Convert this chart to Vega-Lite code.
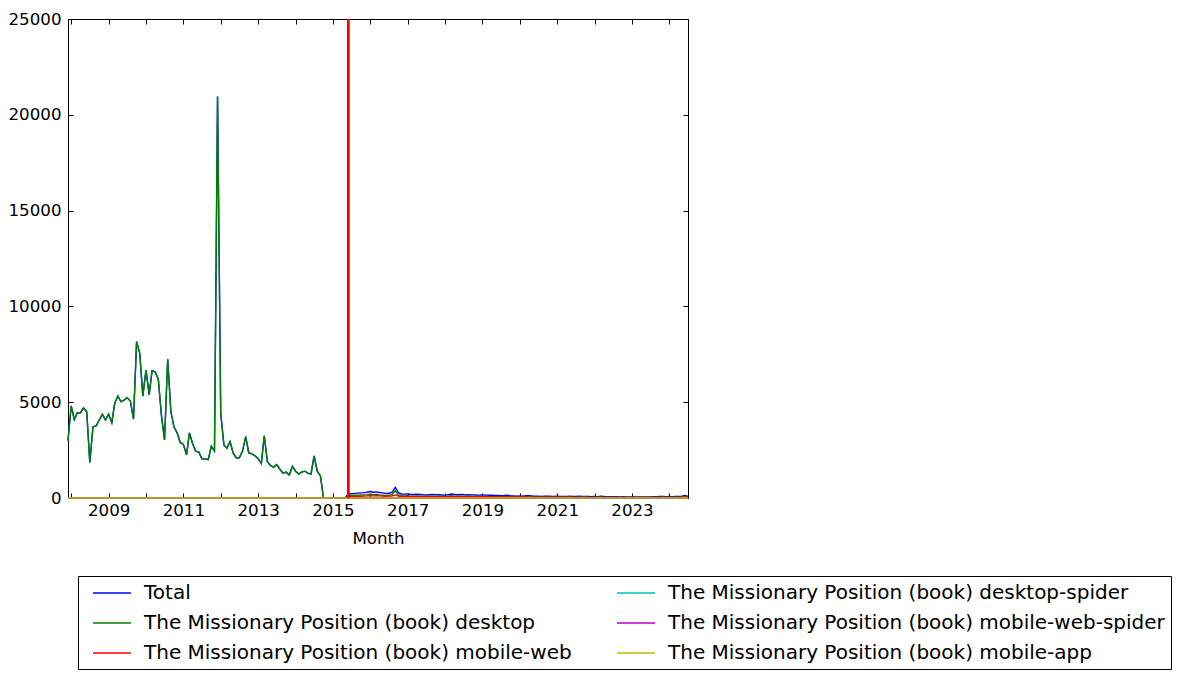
{
"$schema":"https://vega.github.io/schema/vega-lite/v6.json",
"width":620,"height":479,
"autosize":{"type":"none"},
"padding":{"left":68,"top":19,"right":496,"bottom":181},
"background":"white",
"config":{"font":"DejaVu Sans","view":{"stroke":"black","strokeWidth":1},
"axis":{"grid":false,"domainColor":"black","tickColor":"black","labelColor":"black","labelFontSize":16.67,"titleFontSize":16.67,"titleFontWeight":"normal","titleColor":"black","tickSize":-5,"tickWidth":1}},
"datasets":{
"names":[{"k":"T","series":"Total"},{"k":"D","series":"The Missionary Position (book) desktop"},{"k":"W","series":"The Missionary Position (book) mobile-web"},{"k":"S","series":"The Missionary Position (book) desktop-spider"},{"k":"P","series":"The Missionary Position (book) mobile-web-spider"},{"k":"A","series":"The Missionary Position (book) mobile-app"}],
"main":[
{"m":"2007-12","T":3000,"D":3000,"W":0,"S":0,"P":0,"A":0},
{"m":"2008-01","T":4800,"D":4800,"W":0,"S":0,"P":0,"A":0},
{"m":"2008-02","T":4100,"D":4100,"W":0,"S":0,"P":0,"A":0},
{"m":"2008-03","T":4450,"D":4450,"W":0,"S":0,"P":0,"A":0},
{"m":"2008-04","T":4450,"D":4450,"W":0,"S":0,"P":0,"A":0},
{"m":"2008-05","T":4700,"D":4700,"W":0,"S":0,"P":0,"A":0},
{"m":"2008-06","T":4500,"D":4500,"W":0,"S":0,"P":0,"A":0},
{"m":"2008-07","T":1850,"D":1850,"W":0,"S":0,"P":0,"A":0},
{"m":"2008-08","T":3720,"D":3720,"W":0,"S":0,"P":0,"A":0},
{"m":"2008-09","T":3760,"D":3760,"W":0,"S":0,"P":0,"A":0},
{"m":"2008-10","T":4070,"D":4070,"W":0,"S":0,"P":0,"A":0},
{"m":"2008-11","T":4370,"D":4370,"W":0,"S":0,"P":0,"A":0},
{"m":"2008-12","T":4070,"D":4070,"W":0,"S":0,"P":0,"A":0},
{"m":"2009-01","T":4370,"D":4370,"W":0,"S":0,"P":0,"A":0},
{"m":"2009-02","T":3930,"D":3930,"W":0,"S":0,"P":0,"A":0},
{"m":"2009-03","T":4940,"D":4940,"W":0,"S":0,"P":0,"A":0},
{"m":"2009-04","T":5320,"D":5320,"W":0,"S":0,"P":0,"A":0},
{"m":"2009-05","T":5030,"D":5030,"W":0,"S":0,"P":0,"A":0},
{"m":"2009-06","T":5110,"D":5110,"W":0,"S":0,"P":0,"A":0},
{"m":"2009-07","T":5240,"D":5240,"W":0,"S":0,"P":0,"A":0},
{"m":"2009-08","T":5060,"D":5060,"W":0,"S":0,"P":0,"A":0},
{"m":"2009-09","T":4120,"D":4120,"W":0,"S":0,"P":0,"A":0},
{"m":"2009-10","T":8160,"D":8160,"W":0,"S":0,"P":0,"A":0},
{"m":"2009-11","T":7550,"D":7550,"W":0,"S":0,"P":0,"A":0},
{"m":"2009-12","T":5320,"D":5320,"W":0,"S":0,"P":0,"A":0},
{"m":"2010-01","T":6680,"D":6680,"W":0,"S":0,"P":0,"A":0},
{"m":"2010-02","T":5380,"D":5380,"W":0,"S":0,"P":0,"A":0},
{"m":"2010-03","T":6640,"D":6640,"W":0,"S":0,"P":0,"A":0},
{"m":"2010-04","T":6590,"D":6590,"W":0,"S":0,"P":0,"A":0},
{"m":"2010-05","T":6200,"D":6200,"W":0,"S":0,"P":0,"A":0},
{"m":"2010-06","T":4300,"D":4300,"W":0,"S":0,"P":0,"A":0},
{"m":"2010-07","T":3030,"D":3030,"W":0,"S":0,"P":0,"A":0},
{"m":"2010-08","T":7240,"D":7240,"W":0,"S":0,"P":0,"A":0},
{"m":"2010-09","T":4500,"D":4500,"W":0,"S":0,"P":0,"A":0},
{"m":"2010-10","T":3720,"D":3720,"W":0,"S":0,"P":0,"A":0},
{"m":"2010-11","T":3400,"D":3400,"W":0,"S":0,"P":0,"A":0},
{"m":"2010-12","T":2900,"D":2900,"W":0,"S":0,"P":0,"A":0},
{"m":"2011-01","T":2800,"D":2800,"W":0,"S":0,"P":0,"A":0},
{"m":"2011-02","T":2250,"D":2250,"W":0,"S":0,"P":0,"A":0},
{"m":"2011-03","T":3400,"D":3400,"W":0,"S":0,"P":0,"A":0},
{"m":"2011-04","T":2850,"D":2850,"W":0,"S":0,"P":0,"A":0},
{"m":"2011-05","T":2450,"D":2450,"W":0,"S":0,"P":0,"A":0},
{"m":"2011-06","T":2400,"D":2400,"W":0,"S":0,"P":0,"A":0},
{"m":"2011-07","T":2050,"D":2050,"W":0,"S":0,"P":0,"A":0},
{"m":"2011-08","T":2050,"D":2050,"W":0,"S":0,"P":0,"A":0},
{"m":"2011-09","T":2000,"D":2000,"W":0,"S":0,"P":0,"A":0},
{"m":"2011-10","T":2700,"D":2700,"W":0,"S":0,"P":0,"A":0},
{"m":"2011-11","T":2450,"D":2450,"W":0,"S":0,"P":0,"A":0},
{"m":"2011-12","T":20950,"D":20950,"W":0,"S":0,"P":0,"A":0},
{"m":"2012-01","T":4420,"D":4420,"W":0,"S":0,"P":0,"A":0},
{"m":"2012-02","T":2770,"D":2770,"W":0,"S":0,"P":0,"A":0},
{"m":"2012-03","T":2600,"D":2600,"W":0,"S":0,"P":0,"A":0},
{"m":"2012-04","T":2950,"D":2950,"W":0,"S":0,"P":0,"A":0},
{"m":"2012-05","T":2350,"D":2350,"W":0,"S":0,"P":0,"A":0},
{"m":"2012-06","T":2100,"D":2100,"W":0,"S":0,"P":0,"A":0},
{"m":"2012-07","T":2100,"D":2100,"W":0,"S":0,"P":0,"A":0},
{"m":"2012-08","T":2450,"D":2450,"W":0,"S":0,"P":0,"A":0},
{"m":"2012-09","T":3200,"D":3200,"W":0,"S":0,"P":0,"A":0},
{"m":"2012-10","T":2350,"D":2350,"W":0,"S":0,"P":0,"A":0},
{"m":"2012-11","T":2300,"D":2300,"W":0,"S":0,"P":0,"A":0},
{"m":"2012-12","T":2200,"D":2200,"W":0,"S":0,"P":0,"A":0},
{"m":"2013-01","T":2050,"D":2050,"W":0,"S":0,"P":0,"A":0},
{"m":"2013-02","T":1800,"D":1800,"W":0,"S":0,"P":0,"A":0},
{"m":"2013-03","T":3250,"D":3250,"W":0,"S":0,"P":0,"A":0},
{"m":"2013-04","T":1900,"D":1900,"W":0,"S":0,"P":0,"A":0},
{"m":"2013-05","T":1700,"D":1700,"W":0,"S":0,"P":0,"A":0},
{"m":"2013-06","T":1600,"D":1600,"W":0,"S":0,"P":0,"A":0},
{"m":"2013-07","T":1750,"D":1750,"W":0,"S":0,"P":0,"A":0},
{"m":"2013-08","T":1500,"D":1500,"W":0,"S":0,"P":0,"A":0},
{"m":"2013-09","T":1300,"D":1300,"W":0,"S":0,"P":0,"A":0},
{"m":"2013-10","T":1350,"D":1350,"W":0,"S":0,"P":0,"A":0},
{"m":"2013-11","T":1200,"D":1200,"W":0,"S":0,"P":0,"A":0},
{"m":"2013-12","T":1650,"D":1650,"W":0,"S":0,"P":0,"A":0},
{"m":"2014-01","T":1400,"D":1400,"W":0,"S":0,"P":0,"A":0},
{"m":"2014-02","T":1250,"D":1250,"W":0,"S":0,"P":0,"A":0},
{"m":"2014-03","T":1350,"D":1350,"W":0,"S":0,"P":0,"A":0},
{"m":"2014-04","T":1400,"D":1400,"W":0,"S":0,"P":0,"A":0},
{"m":"2014-05","T":1300,"D":1300,"W":0,"S":0,"P":0,"A":0},
{"m":"2014-06","T":1250,"D":1250,"W":0,"S":0,"P":0,"A":0},
{"m":"2014-07","T":2200,"D":2200,"W":0,"S":0,"P":0,"A":0},
{"m":"2014-08","T":1400,"D":1400,"W":0,"S":0,"P":0,"A":0},
{"m":"2014-09","T":1150,"D":1150,"W":0,"S":0,"P":0,"A":0},
{"m":"2014-10","T":0,"D":0,"W":0,"S":0,"P":0,"A":0},
{"m":"2014-11","T":0,"D":0,"W":0,"S":0,"P":0,"A":0},
{"m":"2014-12","T":0,"D":0,"W":0,"S":0,"P":0,"A":0},
{"m":"2015-01","T":0,"D":0,"W":0,"S":0,"P":0,"A":0},
{"m":"2015-02","T":0,"D":0,"W":0,"S":0,"P":0,"A":0},
{"m":"2015-03","T":0,"D":0,"W":0,"S":0,"P":0,"A":0},
{"m":"2015-04","T":0,"D":0,"W":0,"S":0,"P":0,"A":0},
{"m":"2015-05","T":0,"D":0,"W":0,"S":0,"P":0,"A":0},
{"m":"2015-06","T":220,"D":130,"W":75,"S":10,"P":1,"A":2},
{"m":"2015-07","T":230,"D":140,"W":80,"S":8,"P":1,"A":2},
{"m":"2015-08","T":240,"D":145,"W":82,"S":10,"P":1,"A":2},
{"m":"2015-09","T":255,"D":150,"W":90,"S":12,"P":1,"A":2},
{"m":"2015-10","T":270,"D":160,"W":95,"S":12,"P":1,"A":2},
{"m":"2015-11","T":280,"D":165,"W":100,"S":12,"P":1,"A":2},
{"m":"2015-12","T":300,"D":175,"W":110,"S":12,"P":1,"A":2},
{"m":"2016-01","T":340,"D":200,"W":120,"S":15,"P":1,"A":3},
{"m":"2016-02","T":300,"D":175,"W":110,"S":12,"P":1,"A":2},
{"m":"2016-03","T":320,"D":185,"W":115,"S":15,"P":1,"A":3},
{"m":"2016-04","T":290,"D":165,"W":110,"S":12,"P":1,"A":2},
{"m":"2016-05","T":270,"D":150,"W":105,"S":12,"P":1,"A":2},
{"m":"2016-06","T":240,"D":135,"W":95,"S":8,"P":1,"A":2},
{"m":"2016-07","T":250,"D":140,"W":100,"S":8,"P":1,"A":2},
{"m":"2016-08","T":300,"D":180,"W":105,"S":12,"P":1,"A":2},
{"m":"2016-09","T":560,"D":380,"W":160,"S":15,"P":2,"A":3},
{"m":"2016-10","T":280,"D":160,"W":105,"S":12,"P":1,"A":2},
{"m":"2016-11","T":210,"D":120,"W":80,"S":8,"P":1,"A":1},
{"m":"2016-12","T":200,"D":110,"W":80,"S":8,"P":1,"A":1},
{"m":"2017-01","T":210,"D":115,"W":85,"S":8,"P":1,"A":1},
{"m":"2017-02","T":190,"D":100,"W":80,"S":8,"P":1,"A":1},
{"m":"2017-03","T":180,"D":95,"W":75,"S":8,"P":1,"A":1},
{"m":"2017-04","T":200,"D":105,"W":85,"S":8,"P":1,"A":1},
{"m":"2017-05","T":190,"D":100,"W":80,"S":8,"P":1,"A":1},
{"m":"2017-06","T":170,"D":90,"W":72,"S":6,"P":1,"A":1},
{"m":"2017-07","T":160,"D":85,"W":68,"S":6,"P":1,"A":1},
{"m":"2017-08","T":170,"D":88,"W":74,"S":6,"P":1,"A":1},
{"m":"2017-09","T":180,"D":95,"W":78,"S":6,"P":1,"A":1},
{"m":"2017-10","T":175,"D":92,"W":76,"S":6,"P":1,"A":1},
{"m":"2017-11","T":170,"D":88,"W":74,"S":6,"P":1,"A":1},
{"m":"2017-12","T":160,"D":82,"W":70,"S":6,"P":1,"A":1},
{"m":"2018-01","T":150,"D":78,"W":65,"S":5,"P":1,"A":1},
{"m":"2018-02","T":170,"D":90,"W":72,"S":6,"P":1,"A":1},
{"m":"2018-03","T":210,"D":115,"W":85,"S":8,"P":1,"A":1},
{"m":"2018-04","T":190,"D":100,"W":80,"S":8,"P":1,"A":1},
{"m":"2018-05","T":170,"D":90,"W":72,"S":6,"P":1,"A":1},
{"m":"2018-06","T":180,"D":95,"W":78,"S":6,"P":1,"A":1},
{"m":"2018-07","T":175,"D":90,"W":78,"S":6,"P":1,"A":1},
{"m":"2018-08","T":160,"D":82,"W":70,"S":6,"P":1,"A":1},
{"m":"2018-09","T":170,"D":88,"W":74,"S":6,"P":1,"A":1},
{"m":"2018-10","T":165,"D":85,"W":72,"S":6,"P":1,"A":1},
{"m":"2018-11","T":155,"D":80,"W":68,"S":5,"P":1,"A":1},
{"m":"2018-12","T":150,"D":76,"W":66,"S":5,"P":1,"A":1},
{"m":"2019-01","T":160,"D":82,"W":70,"S":5,"P":1,"A":1},
{"m":"2019-02","T":150,"D":76,"W":66,"S":5,"P":1,"A":1},
{"m":"2019-03","T":140,"D":70,"W":62,"S":5,"P":1,"A":1},
{"m":"2019-04","T":145,"D":72,"W":65,"S":5,"P":1,"A":1},
{"m":"2019-05","T":135,"D":68,"W":60,"S":5,"P":1,"A":1},
{"m":"2019-06","T":130,"D":64,"W":58,"S":5,"P":1,"A":1},
{"m":"2019-07","T":125,"D":62,"W":56,"S":5,"P":1,"A":1},
{"m":"2019-08","T":130,"D":64,"W":58,"S":5,"P":1,"A":1},
{"m":"2019-09","T":140,"D":70,"W":62,"S":5,"P":1,"A":1},
{"m":"2019-10","T":120,"D":58,"W":55,"S":4,"P":1,"A":1},
{"m":"2019-11","T":110,"D":54,"W":50,"S":4,"P":1,"A":1},
{"m":"2019-12","T":100,"D":48,"W":46,"S":4,"P":1,"A":1},
{"m":"2020-01","T":110,"D":54,"W":50,"S":4,"P":1,"A":1},
{"m":"2020-02","T":100,"D":48,"W":46,"S":4,"P":1,"A":1},
{"m":"2020-03","T":115,"D":56,"W":52,"S":4,"P":1,"A":1},
{"m":"2020-04","T":120,"D":58,"W":55,"S":4,"P":1,"A":1},
{"m":"2020-05","T":105,"D":50,"W":48,"S":4,"P":1,"A":1},
{"m":"2020-06","T":95,"D":45,"W":44,"S":4,"P":1,"A":1},
{"m":"2020-07","T":90,"D":42,"W":42,"S":4,"P":1,"A":1},
{"m":"2020-08","T":85,"D":40,"W":40,"S":3,"P":1,"A":1},
{"m":"2020-09","T":95,"D":45,"W":44,"S":4,"P":1,"A":1},
{"m":"2020-10","T":100,"D":48,"W":46,"S":4,"P":1,"A":1},
{"m":"2020-11","T":90,"D":42,"W":42,"S":4,"P":1,"A":1},
{"m":"2020-12","T":85,"D":40,"W":40,"S":3,"P":1,"A":1},
{"m":"2021-01","T":90,"D":42,"W":42,"S":4,"P":1,"A":1},
{"m":"2021-02","T":80,"D":38,"W":37,"S":3,"P":1,"A":1},
{"m":"2021-03","T":85,"D":40,"W":40,"S":3,"P":1,"A":1},
{"m":"2021-04","T":80,"D":38,"W":37,"S":3,"P":1,"A":1},
{"m":"2021-05","T":95,"D":45,"W":44,"S":4,"P":1,"A":1},
{"m":"2021-06","T":80,"D":38,"W":37,"S":3,"P":1,"A":1},
{"m":"2021-07","T":75,"D":35,"W":35,"S":3,"P":1,"A":1},
{"m":"2021-08","T":90,"D":42,"W":42,"S":4,"P":1,"A":1},
{"m":"2021-09","T":85,"D":40,"W":40,"S":3,"P":1,"A":1},
{"m":"2021-10","T":80,"D":38,"W":37,"S":3,"P":1,"A":1},
{"m":"2021-11","T":75,"D":35,"W":35,"S":3,"P":1,"A":1},
{"m":"2021-12","T":70,"D":33,"W":33,"S":3,"P":1,"A":1},
{"m":"2022-01","T":75,"D":35,"W":35,"S":3,"P":1,"A":1},
{"m":"2022-02","T":70,"D":33,"W":33,"S":3,"P":1,"A":1},
{"m":"2022-03","T":95,"D":45,"W":44,"S":4,"P":1,"A":1},
{"m":"2022-04","T":75,"D":35,"W":35,"S":3,"P":1,"A":1},
{"m":"2022-05","T":70,"D":33,"W":33,"S":3,"P":1,"A":1},
{"m":"2022-06","T":65,"D":30,"W":31,"S":3,"P":1,"A":0},
{"m":"2022-07","T":70,"D":33,"W":33,"S":3,"P":1,"A":0},
{"m":"2022-08","T":65,"D":30,"W":31,"S":3,"P":1,"A":0},
{"m":"2022-09","T":60,"D":28,"W":28,"S":3,"P":1,"A":0},
{"m":"2022-10","T":65,"D":30,"W":31,"S":3,"P":1,"A":0},
{"m":"2022-11","T":60,"D":28,"W":28,"S":3,"P":1,"A":0},
{"m":"2022-12","T":55,"D":26,"W":26,"S":2,"P":1,"A":0},
{"m":"2023-01","T":60,"D":28,"W":28,"S":3,"P":1,"A":0},
{"m":"2023-02","T":55,"D":26,"W":26,"S":2,"P":1,"A":0},
{"m":"2023-03","T":60,"D":28,"W":28,"S":3,"P":1,"A":0},
{"m":"2023-04","T":55,"D":26,"W":26,"S":2,"P":1,"A":0},
{"m":"2023-05","T":60,"D":28,"W":28,"S":3,"P":1,"A":0},
{"m":"2023-06","T":55,"D":26,"W":26,"S":2,"P":1,"A":0},
{"m":"2023-07","T":60,"D":28,"W":28,"S":3,"P":1,"A":0},
{"m":"2023-08","T":65,"D":30,"W":31,"S":3,"P":1,"A":0},
{"m":"2023-09","T":70,"D":33,"W":33,"S":3,"P":1,"A":0},
{"m":"2023-10","T":75,"D":35,"W":35,"S":3,"P":1,"A":0},
{"m":"2023-11","T":80,"D":38,"W":37,"S":3,"P":1,"A":0},
{"m":"2023-12","T":70,"D":33,"W":33,"S":3,"P":1,"A":0},
{"m":"2024-01","T":75,"D":35,"W":35,"S":3,"P":1,"A":0},
{"m":"2024-02","T":70,"D":33,"W":33,"S":3,"P":1,"A":0},
{"m":"2024-03","T":80,"D":38,"W":37,"S":3,"P":1,"A":0},
{"m":"2024-04","T":75,"D":35,"W":35,"S":3,"P":1,"A":0},
{"m":"2024-05","T":95,"D":45,"W":44,"S":4,"P":1,"A":0},
{"m":"2024-06","T":130,"D":65,"W":58,"S":5,"P":1,"A":0},
{"m":"2024-07","T":80,"D":38,"W":37,"S":3,"P":1,"A":0}
]},
"layer":[
{"data":{"name":"main"},
"transform":[{"fold":["T","D","W","S","P","A"],"as":["k","v"]},{"lookup":"k","from":{"data":{"name":"names"},"key":"k","fields":["series"]}}],
"mark":{"type":"line","strokeWidth":1.4},
"encoding":{
"x":{"field":"m","type":"temporal","scale":{"type":"utc","domain":[{"year":2007,"month":12,"date":1,"utc":true},{"year":2024,"month":7,"date":1,"utc":true}]},
"axis":{"orient":"bottom","title":"Month","titlePadding":12,"labelPadding":9,"values":[{"year":2008,"month":1,"date":1,"utc":true},{"year":2009,"month":1,"date":1,"utc":true},{"year":2010,"month":1,"date":1,"utc":true},{"year":2011,"month":1,"date":1,"utc":true},{"year":2012,"month":1,"date":1,"utc":true},{"year":2013,"month":1,"date":1,"utc":true},{"year":2014,"month":1,"date":1,"utc":true},{"year":2015,"month":1,"date":1,"utc":true},{"year":2016,"month":1,"date":1,"utc":true},{"year":2017,"month":1,"date":1,"utc":true},{"year":2018,"month":1,"date":1,"utc":true},{"year":2019,"month":1,"date":1,"utc":true},{"year":2020,"month":1,"date":1,"utc":true},{"year":2021,"month":1,"date":1,"utc":true},{"year":2022,"month":1,"date":1,"utc":true},{"year":2023,"month":1,"date":1,"utc":true},{"year":2024,"month":1,"date":1,"utc":true}],
"labelExpr":"utcyear(datum.value) % 2 == 1 ? utcFormat(datum.value, '%Y') : ''"}},
"y":{"field":"v","type":"quantitative","scale":{"domain":[0,25000],"nice":false},"axis":{"orient":"left","title":null,"values":[0,5000,10000,15000,20000,25000],"format":"d","labelPadding":12}},
"color":{"field":"series","type":"nominal",
"scale":{"domain":["Total","The Missionary Position (book) desktop","The Missionary Position (book) mobile-web","The Missionary Position (book) desktop-spider","The Missionary Position (book) mobile-web-spider","The Missionary Position (book) mobile-app"],
"range":["#0000ff","#008000","#ff0000","#00bfbf","#bf00bf","#bfbf00"]},
"legend":{"orient":"none","legendX":10,"legendY":557,"title":null,"columns":2,"symbolType":"M-0.2,0H3.6","symbolSize":400,"symbolStrokeWidth":1.4,"labelOffset":38,"labelFontSize":20,"labelLimit":800,"labelColor":"black","columnPadding":36,"rowPadding":9,"padding":6,"strokeColor":"black","fillColor":"white","cornerRadius":0}}}},
{"data":{"name":"main"},
"transform":[{"fold":["T"],"as":["k","v"]}],
"mark":{"type":"line","strokeOpacity":0},
"encoding":{
"x":{"field":"m","type":"temporal","scale":{"type":"utc"},"axis":{"orient":"top","title":null,"labels":false,"values":[{"year":2008,"month":1,"date":1,"utc":true},{"year":2009,"month":1,"date":1,"utc":true},{"year":2010,"month":1,"date":1,"utc":true},{"year":2011,"month":1,"date":1,"utc":true},{"year":2012,"month":1,"date":1,"utc":true},{"year":2013,"month":1,"date":1,"utc":true},{"year":2014,"month":1,"date":1,"utc":true},{"year":2015,"month":1,"date":1,"utc":true},{"year":2016,"month":1,"date":1,"utc":true},{"year":2017,"month":1,"date":1,"utc":true},{"year":2018,"month":1,"date":1,"utc":true},{"year":2019,"month":1,"date":1,"utc":true},{"year":2020,"month":1,"date":1,"utc":true},{"year":2021,"month":1,"date":1,"utc":true},{"year":2022,"month":1,"date":1,"utc":true},{"year":2023,"month":1,"date":1,"utc":true},{"year":2024,"month":1,"date":1,"utc":true}]}},
"y":{"field":"v","type":"quantitative","axis":{"orient":"right","title":null,"labels":false,"values":[0,5000,10000,15000,20000,25000]}}}},
{"data":{"values":[{"d":"2015-06-01"}]},
"mark":{"type":"rule","color":"#ff0000","strokeWidth":2.8},
"encoding":{"x":{"field":"d","type":"temporal","scale":{"type":"utc"},"axis":null}}}
]
}
